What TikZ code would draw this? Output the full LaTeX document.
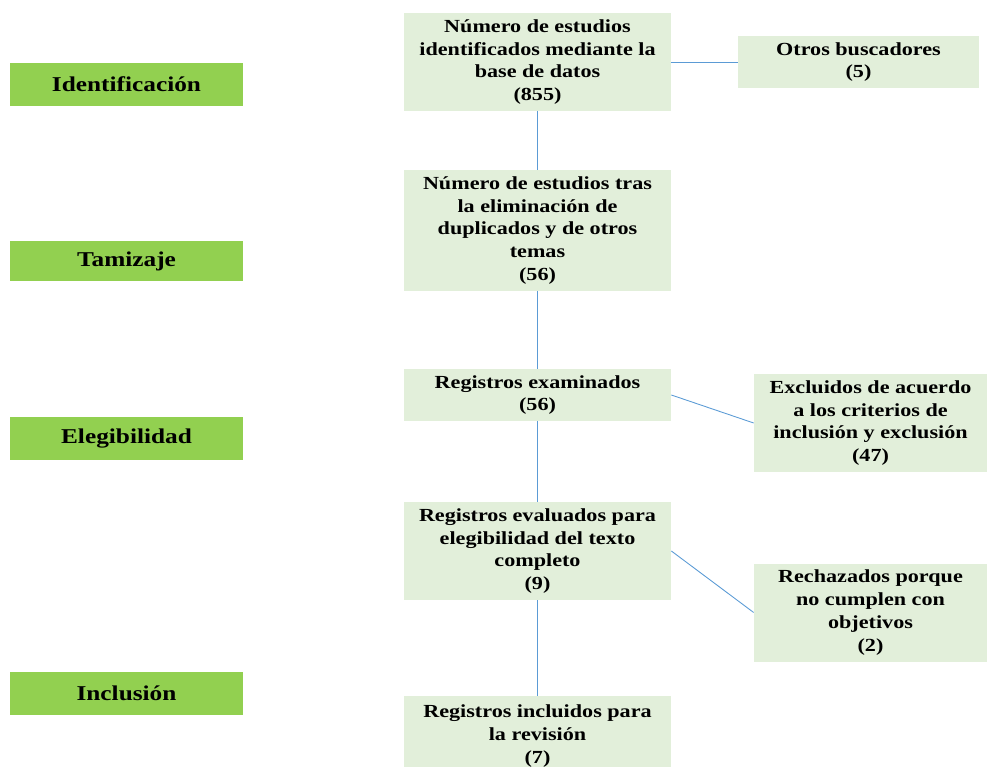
\documentclass[tikz,border=0pt]{standalone}
\usepackage{fontspec}
\setmainfont[FakeStretch=1.2]{Liberation Serif}
\usepackage{tikz}
\usetikzlibrary{positioning}
\definecolor{stagegreen}{HTML}{92D050}
\definecolor{boxgreen}{HTML}{E2EFDA}
\definecolor{linkblue}{HTML}{5B9BD5}
\tikzstyle{stage} = [
    rectangle,
    minimum width=4.66cm,
    minimum height=0.86cm,
    fill=stagegreen,
    text centered,
    font=\fontsize{12}{14}\selectfont\bfseries
]
\tikzstyle{record} = [
    rectangle,
    minimum width=5.34cm,
    minimum height=1.96cm,
    fill=boxgreen,
    align=center,
    inner sep=2pt,
    font=\fontsize{10.5}{13}\selectfont\bfseries
]
\tikzstyle{side} = [
    record,
    minimum width=4.66cm
]
\tikzstyle{link} = [
    line width=0.5pt,
    color=linkblue
]

\begin{document}
\begin{tikzpicture}
        \useasboundingbox (0,0) rectangle (19.84,-15.34);

        % Stages
        \node[stage] (ident) at (2.53, -1.69) {Identificación};
        \node[stage, minimum height=0.8cm] (tamiz) at (2.53, -5.22) {Tamizaje};
        \node[stage] (eleg) at (2.53, -8.77) {Elegibilidad};
        \node[stage] (incl) at (2.53, -13.86) {Inclusión};

        % Main flow
        \node[record] (found) at (10.75, -1.24) {Número de estudios\\identificados mediante la\\base de datos\\(855)};
        \node[record, minimum height=2.42cm] (dedup) at (10.75, -4.61) {Número de estudios tras\\la eliminación de\\duplicados y de otros\\temas\\(56)};
        \node[record, minimum height=1.04cm] (screened) at (10.75, -7.9) {Registros examinados\\(56)};
        \node[record] (assessed) at (10.75, -11.02) {Registros evaluados para\\elegibilidad del texto\\completo\\(9)};
        \node[record, minimum height=1.6cm] (included) at (10.75, -14.72) {Registros incluidos para\\la revisión\\(7)};

        % Side boxes
        \node[side, minimum width=4.82cm, minimum height=1.04cm] (other) at (17.17, -1.24) {Otros buscadores\\(5)};
        \node[side] (excluded) at (17.41, -8.46) {Excluidos de acuerdo\\a los criterios de\\inclusión y exclusión\\(47)};
        \node[side] (rejected) at (17.41, -12.25) {Rechazados porque\\no cumplen con\\objetivos\\(2)};

        % Links
        \draw[link] (found) -- (dedup);
        \draw[link] (dedup) -- (screened);
        \draw[link] (screened) -- (assessed);
        \draw[link] (assessed) -- (included);
        \draw[link] (found) -- (other);
        \draw[link] (screened.east) -- (excluded.west);
        \draw[link] (assessed.east) -- (rejected.west);
    \end{tikzpicture}
\end{document}
